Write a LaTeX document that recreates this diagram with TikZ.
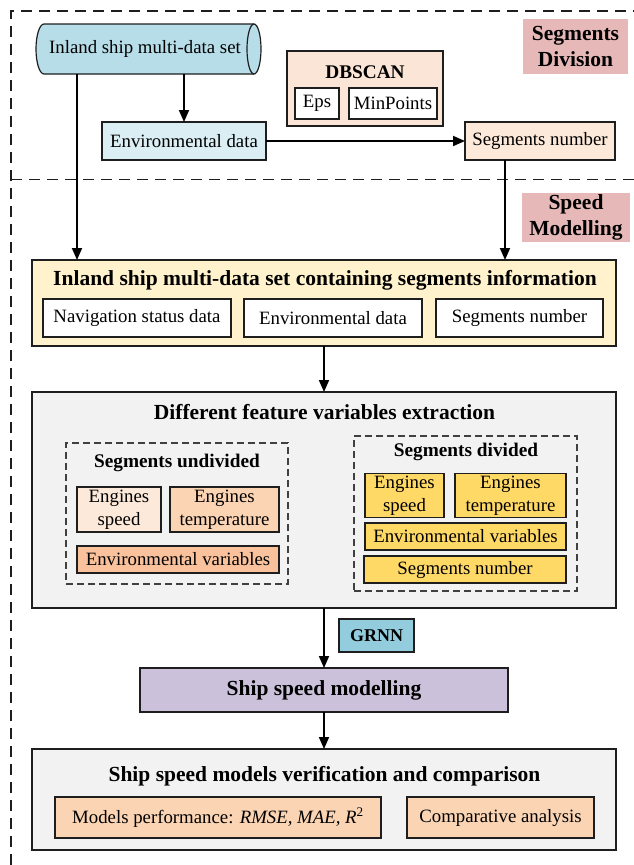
\documentclass[tikz,border=0pt]{standalone}
\usepackage{fontspec}
\setmainfont{Liberation Serif}
\usetikzlibrary{arrows.meta,backgrounds}
\definecolor{linec}{HTML}{1E1E1E}
\definecolor{cylfill}{HTML}{B7DDE8}
\definecolor{envfill}{HTML}{DBEEF4}
\definecolor{peach}{HTML}{FDE9D9}
\definecolor{dbfill}{HTML}{FBE5D6}
\definecolor{tagfill}{HTML}{E6B9B8}
\definecolor{cream}{HTML}{FFF2CC}
\definecolor{panel}{HTML}{F2F2F2}
\definecolor{apricot}{HTML}{FBD4B4}
\definecolor{orangeb}{HTML}{F9C29D}
\definecolor{gold}{HTML}{FFD966}
\definecolor{grnnfill}{HTML}{93CDDD}
\definecolor{lilac}{HTML}{CCC1DA}
\newcommand\fsN{\fontsize{18.8}{23}\selectfont}
\newcommand\fsB{\fontsize{21.5}{26.5}\selectfont\bfseries}
\newcommand\fsS{\fontsize{19.3}{23}\selectfont\bfseries}
\newcommand\fsG{\fontsize{18}{22}\selectfont\bfseries}
\begin{document}
\begin{tikzpicture}[x=1pt,y=1pt,
  box/.style={draw=linec,line width=1.2pt,inner sep=0pt,outer sep=0pt,align=center,font=\fsN},
  ttl/.style={inner sep=0pt,align=center,font=\fsB},
  tag/.style={fill=tagfill,inner sep=0pt,align=center,font=\fsB},
  grp/.style={draw=linec!85,line width=1.1pt,dash pattern=on 7pt off 4pt,inner sep=0pt},
  frm/.style={draw=linec,line width=1.5pt,dash pattern=on 11pt off 7pt},
  arr/.style={draw=black,line width=1.8pt,-{Triangle[length=12pt,width=10pt]}},
]
\useasboundingbox (0,0) rectangle (634,-865);

% section frame and divider
\draw[frm] (11,-865) -- (11,-11) -- (634,-11);
\draw[frm] (11,-179.5) -- (634,-179.5);

% ---------- segments division ----------
\node[inner sep=0pt,outer sep=0pt,minimum width=218pt,minimum height=50pt,font=\fsN] (src) at (145,-49) {Inland ship multi-data set};
\begin{scope}[on background layer]
  \path[draw=linec,line width=1.2pt,fill=cylfill]
    ([xshift=8pt]src.north west) -- (src.north east)
    arc[start angle=90,end angle=-90,x radius=7pt,y radius=25pt]
    -- ([xshift=8pt]src.south west)
    arc[start angle=270,end angle=90,x radius=8pt,y radius=25pt] -- cycle;
  \draw[linec,line width=1.2pt] (src.north east) arc[start angle=90,end angle=270,x radius=7pt,y radius=25pt];
\end{scope}

\node[box,fill=envfill,minimum width=164pt,minimum height=38pt] (env) at (184,-141) {Environmental data};
\node[box,fill=peach,minimum width=150pt,minimum height=38pt] (seg) at (540,-141) {Segments number};

\node[box,fill=dbfill,minimum width=156pt,minimum height=75pt] (db) at (365,-88.5) {};
\node[ttl,font=\fsS] (dbT) at (365,-72) {DBSCAN};
\node[box,fill=white,minimum width=44pt,minimum height=31pt] (eps) at (317,-103.5) {Eps};
\node[box,fill=white,minimum width=88pt,minimum height=31pt] (minp) at (393,-103.5) {MinPoints};

\node[tag,minimum width=105pt,minimum height=55pt] (tagA) at (575.5,-46.5) {Segments\\Division};
\node[tag,minimum width=108pt,minimum height=49pt] (tagB) at (576,-217.5) {Speed\\Modelling};

% ---------- speed modelling ----------
\node[box,fill=cream,minimum width=584pt,minimum height=86pt] (info) at (324,-303) {};
\node[ttl] (infoT) at (325,-280) {Inland ship multi-data set containing segments information};
\node[box,fill=white,minimum width=188pt,minimum height=38pt] (nav) at (137,-318) {Navigation status data};
\node[box,fill=white,minimum width=178pt,minimum height=38pt] (env2) at (333,-318) {Environmental data};
\node[box,fill=white,minimum width=167pt,minimum height=38pt] (seg2) at (519.5,-318) {Segments number};

\node[box,fill=panel,minimum width=584pt,minimum height=216pt] (feat) at (324,-500) {};
\node[ttl] (featT) at (324.5,-412) {Different feature variables extraction};

\node[grp,minimum width=222pt,minimum height=141pt] (undiv) at (177,-513.5) {};
\node[ttl,font=\fsS] (undivT) at (177,-463) {Segments undivided};
\node[box,fill=peach,minimum width=84pt,minimum height=45pt] (es1) at (119,-509.5) {Engines\\speed};
\node[box,fill=apricot,minimum width=109pt,minimum height=45pt] (et1) at (224.5,-509.5) {Engines\\temperature};
\node[box,fill=orangeb,minimum width=202pt,minimum height=27pt] (ev1) at (178,-559.5) {Environmental variables};

\node[grp,minimum width=223pt,minimum height=155pt] (div) at (465.5,-513.5) {};
\node[ttl,font=\fsS] (divT) at (466,-452) {Segments divided};
\node[box,fill=gold,minimum width=79pt,minimum height=44pt] (es2) at (404.5,-495.5) {Engines\\speed};
\node[box,fill=gold,minimum width=111pt,minimum height=44pt] (et2) at (510.5,-495.5) {Engines\\temperature};
\node[box,fill=gold,minimum width=201pt,minimum height=27pt] (ev2) at (465.5,-536.5) {Environmental variables};
\node[box,fill=gold,minimum width=202pt,minimum height=27pt] (sn2) at (465,-569.5) {Segments number};

\node[box,fill=grnnfill,minimum width=75pt,minimum height=33pt,font=\fsG] (grnn) at (376.5,-635.5) {GRNN};
\node[box,fill=lilac,minimum width=368pt,minimum height=44pt,font=\fsB] (model) at (324,-690) {Ship speed modelling};

\node[box,fill=panel,minimum width=584pt,minimum height=101pt] (verif) at (324,-799.5) {};
\node[ttl] (verifT) at (324.5,-776) {Ship speed models verification and comparison};
\node[box,fill=apricot,minimum width=326pt,minimum height=41pt] (perf) at (218,-817.5) {Models performance: \textit{RMSE, MAE, R}\textsuperscript{2}};
\node[box,fill=apricot,minimum width=187pt,minimum height=41pt] (comp) at (500.5,-817.5) {Comparative analysis};

% ---------- connectors ----------
\coordinate (lx) at (77,0);
\coordinate (rx) at (505,0);
\draw[arr] (src.south -| env.north) -- (env.north);
\draw[arr] (env.east) -- (seg.west);
\draw[arr] (src.south -| lx) -- (lx |- info.north);
\draw[arr] (seg.south -| rx) -- (rx |- info.north);
\draw[arr] (info.south) -- (feat.north);
\draw[arr] (feat.south) -- (model.north);
\draw[arr] (model.south) -- (verif.north);
\end{tikzpicture}
\end{document}
